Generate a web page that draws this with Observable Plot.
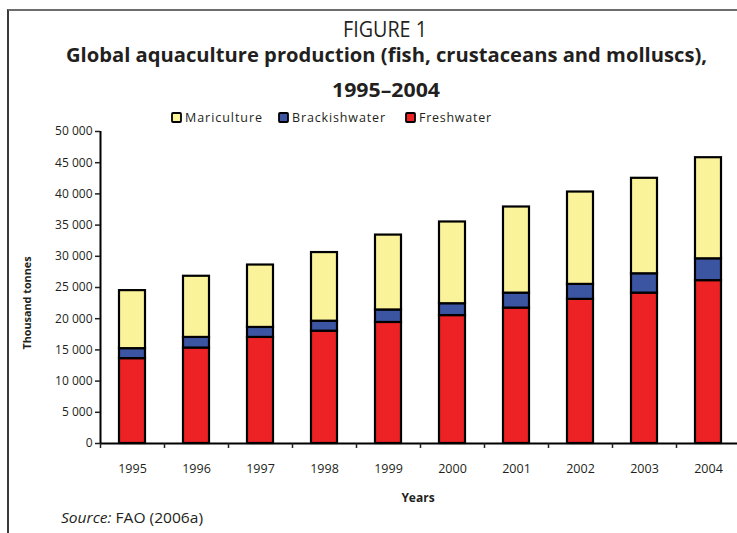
<!DOCTYPE html>
<html>
<head>
<meta charset="utf-8">
<script src="https://cdn.jsdelivr.net/npm/d3@7"></script>
<script src="https://cdn.jsdelivr.net/npm/@observablehq/plot@0.6"></script>
<style>
  html, body { margin: 0; padding: 0; background: #fff; }
  #wrap { position: relative; width: 737px; height: 533px; overflow: hidden; font-family: "Open Sans", sans-serif; color: #231f20; }
  #frame { position: absolute; left: 7px; top: 9px; width: 740px; height: 540px; border-top: 2px solid #6d6d6d; border-left: 2px solid #3a3a3a; }
  #wrap svg { position: absolute; left: 0; top: 0; }
</style>
</head>
<body>
<div id="wrap">
  <div id="frame"></div>
</div>
<script>
const years = ["1995","1996","1997","1998","1999","2000","2001","2002","2003","2004"];
const freshwater = [13600, 15300, 17000, 18000, 19400, 20500, 21700, 23100, 24100, 26100];
const brackishwater = [1600, 1700, 1600, 1600, 2000, 1900, 2400, 2400, 3100, 3500];
const mariculture = [9300, 9800, 10000, 11000, 12000, 13100, 13800, 14800, 15300, 16200];
const seriesNames = ["Mariculture", "Brackishwater", "Freshwater"];
const seriesColors = ["#faf39a", "#3b55a3", "#ed2224"];
const yTicks = [0, 5000, 10000, 15000, 20000, 25000, 30000, 35000, 40000, 45000, 50000];
const titleText = "FIGURE 1";
const titleLines = ["Global aquaculture production (fish, crustaceans and molluscs),", "1995\u20132004"];
const yLabel = "Thousand tonnes";
const xLabel = "Years";
const sourceLabel = "Source:";
const sourceText = " FAO (2006a)";

const data = [];
years.forEach((yr, i) => {
  data.push({year: yr, series: "Freshwater", value: freshwater[i]});
  data.push({year: yr, series: "Brackishwater", value: brackishwater[i]});
  data.push({year: yr, series: "Mariculture", value: mariculture[i]});
});

const fmt = d => d3.format(",")(d).replace(/,/g, " ");

const plot = Plot.plot({
  width: 737,
  height: 533,
  marginTop: 131,
  marginBottom: 90,
  marginLeft: 100,
  marginRight: 0,
  style: {fontFamily: "'Open Sans', sans-serif", fontSize: "12px", color: "#231f20", background: "transparent"},
  x: {type: "band", domain: years, range: [100, 740], paddingInner: 0.6, paddingOuter: 0.3, axis: null},
  y: {domain: [0, 50000], axis: null},
  color: {domain: seriesNames, range: seriesColors},
  marks: [
    Plot.barY(data, {x: "year", y: "value", fill: "series", stroke: "#000", strokeWidth: 2.2, order: ["Freshwater", "Brackishwater", "Mariculture"]}),
    Plot.ruleY([0], {stroke: "#000", strokeWidth: 2}),
    Plot.ruleX([years[0]], {dx: -32, y1: 0, y2: 50000, stroke: "#000", strokeWidth: 2}),
    Plot.axisY({ticks: yTicks, tickFormat: fmt, tickSize: 5, tickPadding: 3, strokeWidth: 1.5, fontSize: 12, label: null}),
    Plot.axisX({tickSize: 5, tickFormat: () => "", dx: -32, strokeWidth: 1.5, label: null}),
    Plot.axisX({tickSize: 0, tickPadding: 21, fontSize: 12.5, label: null})
  ]
});

const wrap = document.getElementById("wrap");
wrap.appendChild(plot);

// overlay for titles, legend and axis labels
const ov = d3.select(wrap).append("svg")
  .attr("width", 737).attr("height", 533)
  .style("font-family", "'Open Sans', sans-serif")
  .attr("fill", "#231f20");

function txt(str, x, y, size, opts = {}) {
  const t = ov.append("text")
    .attr("x", x).attr("y", y)
    .attr("font-size", size)
    .attr("text-anchor", opts.anchor || "middle")
    .attr("font-weight", opts.bold ? "bold" : "normal")
    .text(str);
  if (opts.len) t.attr("textLength", opts.len).attr("lengthAdjust", opts.adjust || "spacingAndGlyphs");
  if (opts.transform) t.attr("transform", opts.transform);
  return t;
}

txt(titleText, 385, 37, 21, {len: 84});
txt(titleLines[0], 386.5, 62, 20, {bold: true, len: 641});
txt(titleLines[1], 386, 97, 20, {bold: true, len: 108});

// legend (from series arrays)
const legX = [172, 279, 406];
const legLen = [77, 93, 72];
seriesNames.forEach((s, i) => {
  ov.append("rect").attr("x", legX[i]).attr("y", 113).attr("width", 9).attr("height", 9)
    .attr("rx", 1).attr("fill", seriesColors[i]).attr("stroke", "#000").attr("stroke-width", 1.8);
  txt(s, legX[i] + 13, 122, 12.5, {anchor: "start", len: legLen[i], adjust: "spacing"});
});

txt(yLabel, 0, 0, 11, {bold: true, len: 93, transform: "translate(31,303) rotate(-90)"});
txt(xLabel, 418, 502, 12, {bold: true});

const src = ov.append("text").attr("x", 61).attr("y", 523).attr("font-size", 14.5)
  .attr("textLength", 142).attr("lengthAdjust", "spacingAndGlyphs");
src.append("tspan").attr("font-style", "italic").text(sourceLabel);
src.append("tspan").text(sourceText);
</script>
</body>
</html>
